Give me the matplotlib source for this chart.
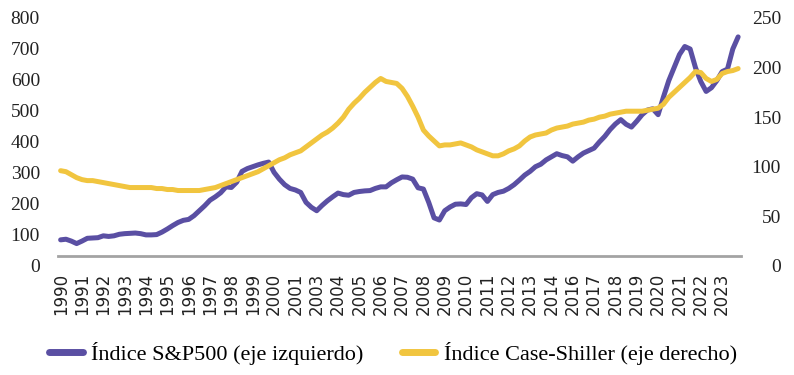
import numpy as np
import matplotlib
matplotlib.use("Agg")
import matplotlib.pyplot as plt

# quarterly-ish points, 1990 -> 2023
sp500 = [84, 86, 80, 72, 80, 89, 90, 91, 97, 95, 97, 102, 104, 105, 106, 104,
         100, 100, 101, 109, 119, 130, 140, 147, 150, 162, 178, 194, 212, 223, 236, 255,
         253, 270, 305, 314, 320, 326, 331, 335, 302, 280, 262, 250, 245, 237, 205, 189,
         178, 195, 210, 223, 235, 230, 228, 237, 240, 242, 243, 250, 255, 255, 268, 278,
         287, 286, 280, 252, 248, 205, 155, 148, 178, 190, 199, 200, 198, 220, 233, 229,
         208, 230, 237, 241, 250, 262, 277, 293, 305, 320, 328, 342, 352, 362, 356, 352,
         338, 352, 364, 372, 380, 400, 418, 440, 458, 472, 457, 448, 467, 488, 503, 507,
         488, 545, 598, 640, 682, 708, 700, 640, 595, 563, 575, 598, 627, 635, 700, 739]

case_shiller = [96, 95, 92, 89, 87, 86, 86, 85, 84, 83, 82, 81, 80, 79, 79, 79,
                79, 79, 78, 78, 77, 77, 76, 76, 76, 76, 76, 77, 78, 79, 81, 83,
                85, 87, 89, 91, 93, 95, 98, 101, 104, 107, 109, 112, 114, 116, 120, 124,
                128, 132, 135, 139, 144, 150, 158, 164, 169, 175, 180, 185, 189, 186, 185, 184,
                179, 171, 161, 150, 137, 131, 126, 121, 122, 122, 123, 124, 122, 120, 117, 115,
                113, 111, 111, 113, 116, 118, 121, 126, 130, 132, 133, 134, 137, 139, 140, 141,
                143, 144, 145, 147, 148, 150, 151, 153, 154, 155, 156, 156, 156, 156, 157, 158,
                159, 163, 170, 175, 180, 185, 190, 196, 195, 189, 186, 188, 194, 196, 197, 199]

year_labels = ["1990", "1991", "1992", "1993", "1994", "1995", "1996", "1997",
               "1998", "1999", "2000", "2001", "2003", "2004", "2005", "2006",
               "2007", "2008", "2009", "2010", "2011", "2012", "2013", "2014",
               "2016", "2017", "2018", "2019", "2020", "2021", "2022", "2023"]

label_sp = "Índice S&P500 (eje izquierdo)"
label_cs = "Índice Case-Shiller (eje derecho)"

purple = "#5a4fa3"
yellow = "#f1c53f"
serif = "Liberation Serif"

x = np.arange(len(sp500))

fig = plt.figure(figsize=(7.94, 3.75), dpi=100)
ax = fig.add_axes([0.073, 0.291, 0.860, 0.661])
ax2 = ax.twinx()

l1, = ax.plot(x, sp500, color=purple, lw=3.6, solid_capstyle="round", label=label_sp)
l2, = ax2.plot(x, case_shiller, color=yellow, lw=3.6, solid_capstyle="round", label=label_cs)

ax.set_xlim(-0.5, len(sp500) - 0.5)
ax.set_ylim(0, 800)
ax2.set_ylim(0, 250)
ax.set_yticks(np.arange(0, 801, 100))
ax2.set_yticks(np.arange(0, 251, 50))

for a in (ax, ax2):
    for s in a.spines.values():
        s.set_visible(False)
ax.spines["bottom"].set_visible(True)
ax.spines["bottom"].set_position(("data", 32))
ax.spines["bottom"].set_color("#a3a3a3")
ax.spines["bottom"].set_linewidth(2)

ax.set_xticks(x[::4][:len(year_labels)])
ax.set_xticklabels(year_labels, rotation=90, fontsize=12, family="DejaVu Sans", color="#222222")
ax.tick_params(axis="x", length=0, pad=12)
ax.tick_params(axis="y", length=0, pad=13, labelsize=14, labelcolor="#222222")
ax2.tick_params(axis="y", length=0, pad=29, labelsize=14, labelcolor="#222222")
for t in ax.get_yticklabels():
    t.set_family(serif)
for t in ax2.get_yticklabels():
    t.set_family(serif)
    t.set_horizontalalignment("right")

leg = fig.legend([l1, l2], [label_sp, label_cs], loc="center", bbox_to_anchor=(0.495, 0.058),
                 ncol=2, frameon=False, handlelength=1.5, columnspacing=1.7, handletextpad=0.4,
                 prop={"family": serif, "size": 16})
for h in leg.get_lines():
    h.set_linewidth(5)
    h.set_solid_capstyle("round")

fig.savefig("out.png", dpi=100)
